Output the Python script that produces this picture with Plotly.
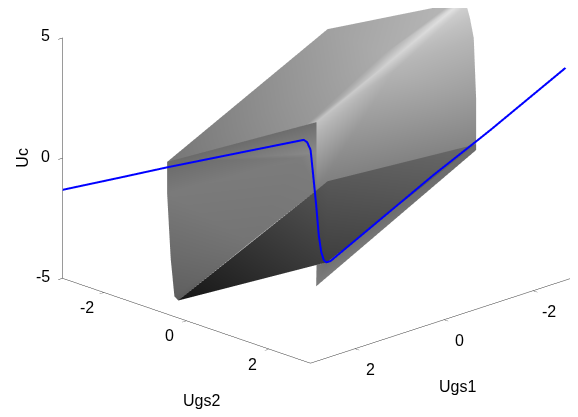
import plotly.graph_objects as go

# blue curve, Ugs1 = -Ugs2 along the whole sweep
line_ugs1 = [3.00, 2.33, 1.78, 0.93, 0.19, 0.15, 0.11, 0.08, 0.045, 0.015, -0.013,
             -0.043, -0.071, -0.121, -0.859, -1.32, -1.82, -1.986, -2.86]
line_ugs2 = [-v for v in line_ugs1]
line_uc = [-1.32, -0.82, -0.40, 0.20, 0.72, 0.62, 0.30, -0.74, -1.99, -3.24, -3.93,
           -4.28, -4.38, -4.33, -2.14, -0.77, 0.63, 1.10, 3.67]

# grey surface patches: top sheet, back wall, front wall, lower sheet, flap
surf_ugs1 = [1.30, -1.05, -2.86, -0.44, -1.77, -0.31, -1.70, -2.72,
             -1.84, -0.44, -2.91, -2.95, -2.30, -2.06, -0.57, -0.44,
             1.30, -0.44, 1.30, -0.44, -0.25, 0.81, -0.44, 1.74, 2.515, 2.47,
             2.47, -0.44, -0.57, -2.06, -0.315,
             -0.20, -0.315, -2.06, -2.06, 0.43,
             -2.85]
surf_ugs2 = [-2.30, -0.95, 0.36, -0.56, -0.23, -0.69, -0.30, 0.22,
             -0.16, -0.56, 0.41, 0.45, 1.30, 1.56, -0.43, -0.56,
             -2.30, -0.56, -2.30, -0.56, -0.75, -0.81, -0.56, -1.74, -0.815, -0.77,
             -0.77, -0.56, -0.43, 1.56, -0.185,
             -0.30, -0.185, 1.56, 1.56, 0.37,
             0.65]
surf_uc = [-0.77, 4.13, 4.95, 0.86, 2.75, 0.73, 3.07, 4.84,
           2.43, 0.36, 4.81, 4.27, 1.83, 0.21, -1.60, -1.98,
           -0.77, 0.86, -2.08, -0.43, -0.64, -3.54, -1.98, -4.19, -4.76, -4.93,
           -4.93, -1.98, -1.60, 0.21, -4.68,
           -4.79, -4.68, 0.21, -0.03, -4.90,
           3.62]
surf_gray = [118, 160, 228, 195, 210, 150, 172, 182,
             180, 180, 208, 195, 155, 132, 128, 125,
             106, 110, 122, 138, 124, 116, 122, 106, 95, 90,
             22, 82, 88, 105, 62,
             118, 112, 108, 108, 125,
             182]
tri_i = [0, 0, 1, 5, 5, 6, 6,
         3, 3, 4, 4, 8, 8, 8, 8, 8, 8, 8,
         16, 16, 16, 18, 20, 20, 18, 23, 24,
         26, 27, 28,
         31, 32, 32]
tri_j = [1, 6, 7, 6, 4, 7, 2,
         4, 8, 2, 10, 10, 11, 36, 12, 13, 14, 15,
         17, 19, 20, 20, 19, 22, 21, 21, 21,
         27, 28, 29,
         32, 33, 34]
tri_k = [6, 5, 6, 4, 3, 2, 4,
         8, 9, 10, 8, 11, 36, 12, 13, 14, 15, 9,
         19, 20, 18, 21, 22, 21, 23, 24, 25,
         30, 30, 30,
         35, 34, 35]

tick_vals = [-2, 0, 2]
uc_ticks = [-5, 0, 5]
label_font = dict(family="Liberation Sans", size=16, color="#000000")

fig = go.Figure()
fig.add_trace(go.Mesh3d(
    x=surf_ugs1, y=surf_ugs2, z=surf_uc,
    i=tri_i, j=tri_j, k=tri_k,
    intensity=surf_gray,
    colorscale=[[0, "rgb(0,0,0)"], [1, "rgb(255,255,255)"]],
    cmin=0, cmax=255,
    showscale=False,
    flatshading=False,
    lighting=dict(ambient=1, diffuse=0, specular=0, fresnel=0, roughness=1),
))
fig.add_trace(go.Scatter3d(
    x=line_ugs1, y=line_ugs2, z=line_uc,
    mode="lines",
    line=dict(color="#0000ff", width=4),
    showlegend=False,
))


def axis_style(ticks):
    return dict(
        tickvals=ticks,
        showticklabels=False,
        showgrid=False,
        zeroline=False,
        showbackground=False,
        showspikes=False,
        showline=True,
        linecolor="#333333",
        linewidth=1,
        ticks="inside",
        ticklen=6,
        tickcolor="#333333",
        title=dict(text=""),
    )


z_style = axis_style(uc_ticks)
z_style.update(ticks="outside", linecolor="#9a9a9a", linewidth=2)

# tick labels sit further from the axes than gl3d puts them, so they are annotations
labels = []
for t in tick_vals:
    labels.append(dict(x=t, y=3, z=-5, text=str(t), showarrow=False, xshift=16, yshift=-21, font=label_font))
    labels.append(dict(x=3, y=t, z=-5, text=str(t), showarrow=False, xshift=-17, yshift=-15, font=label_font))
for t in uc_ticks:
    labels.append(dict(x=3, y=-3, z=t, text=str(t), showarrow=False, xanchor="right", xshift=-11, yshift=2, font=label_font))
labels.append(dict(x=-3, y=0, z=-5, text="Ugs1", showarrow=False, xshift=4, yshift=-153, font=label_font))
labels.append(dict(x=0, y=-3, z=-5, text="Ugs2", showarrow=False, xshift=5, yshift=-166, font=label_font))
labels.append(dict(x=3, y=-3, z=0, text="Uc", showarrow=False, xshift=-40, textangle=-90, font=label_font))

fig.update_layout(
    width=578,
    height=417,
    margin=dict(l=0, r=0, t=0, b=0),
    paper_bgcolor="white",
    showlegend=False,
    scene=dict(
        domain=dict(x=[0, 1], y=[0, 1]),
        xaxis=dict(range=[-3, 3], **axis_style(tick_vals)),
        yaxis=dict(range=[-3, 3], **axis_style(tick_vals)),
        zaxis=dict(range=[-5, 5], **z_style),
        aspectmode="manual",
        aspectratio=dict(x=1.789, y=1.703, z=1.223),
        camera=dict(
            projection=dict(type="orthographic"),
            up=dict(x=0, y=0, z=1),
            center=dict(x=0.1454, y=-0.0090, z=-0.2686),
            eye=dict(x=0.8034, y=0.6660, z=0.0654),
        ),
        annotations=labels,
    ),
)

fig.write_html("out.html")
